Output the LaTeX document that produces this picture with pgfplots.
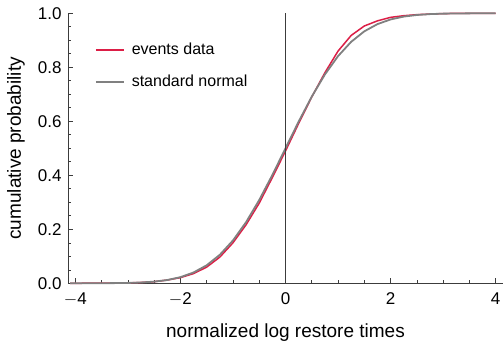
\documentclass[border=0pt]{standalone}
\usepackage{pgfplots}
\pgfplotsset{compat=1.18}
\usepackage{fontspec}
\setmainfont{Liberation Sans}
\definecolor{evred}{RGB}{220,30,70}
\definecolor{nrmgray}{RGB}{128,128,128}
\definecolor{axgray}{RGB}{60,60,60}
\begin{document}
\fontsize{16}{19}\selectfont
\begin{tikzpicture}
\path[use as bounding box] (0,0) rectangle (503pt,343pt);
\begin{axis}[
  at={(68pt,59.7pt)}, anchor=south west,
  scale only axis, width=435pt, height=270pt,
  xmin=-4.14, xmax=4.14, ymin=0, ymax=1,
  axis lines*=left, axis line style={axgray, line width=0.7pt, -},
  xtick={-4,-2,0,2,4}, ytick={0,0.2,0.4,0.6,0.8,1.0},
  minor x tick num=3, minor y tick num=3,
  tick align=inside, tick style={axgray, line width=0.6pt},
  major tick length=5pt, minor tick length=3pt,
  xticklabels={$-$4,$-$2,0,2,4},
  yticklabel style={/pgf/number format/fixed, /pgf/number format/fixed zerofill, /pgf/number format/precision=1, xshift=-1pt},
  /pgf/number format/assume math mode=true,
  ticklabel style={font=\fontsize{17}{19}\selectfont},
  xticklabel style={yshift=-4pt},
  xlabel={normalized log restore times},
  ylabel={cumulative probability},
  label style={font=\fontsize{19}{22}\selectfont},
  xlabel style={at={(axis description cs:0.5,0)}, anchor=base, yshift=-54pt},
  ylabel style={at={([xshift=-47pt]axis description cs:0,0.5)}, anchor=base},
  legend style={draw=none, fill=none, at={(axis cs:-3.63,0.898)}, anchor=north west,
    font=\fontsize{16}{19}\selectfont, row sep=14pt, inner sep=0pt},
  legend cell align=left,
  legend image code/.code={\draw[#1] (0pt,0pt) -- (28pt,0pt); \path (33pt,0pt);},
  clip=false,
]
\addplot[evred, line width=1.5pt] coordinates {
(-4.1,0.0) (-3.5,0.0005) (-3,0.0015) (-2.75,0.003) (-2.5,0.006) (-2.25,0.012)
(-2,0.021) (-1.75,0.036) (-1.5,0.060) (-1.25,0.097) (-1,0.150) (-0.75,0.217)
(-0.5,0.297) (-0.25,0.392) (0,0.490) (0.25,0.592) (0.5,0.690) (0.75,0.780)
(1,0.860) (1.25,0.918) (1.5,0.953) (1.75,0.972) (2,0.985) (2.25,0.991)
(2.5,0.995) (2.75,0.997) (3,0.999) (3.5,1.0) (4.0,1.0)
};
\addlegendentry{events data}
\addplot[nrmgray, line width=1.8pt] coordinates {
(-4.1,0.00002) (-3.5,0.0002) (-3,0.0013) (-2.75,0.0030) (-2.5,0.0062) (-2.25,0.0122)
(-2,0.0228) (-1.75,0.0401) (-1.5,0.0668) (-1.25,0.1056) (-1,0.1587) (-0.75,0.2266)
(-0.5,0.3085) (-0.25,0.4013) (0,0.5) (0.25,0.5987) (0.5,0.6915) (0.75,0.7734)
(1,0.8413) (1.25,0.8944) (1.5,0.9332) (1.75,0.9599) (2,0.9772) (2.25,0.9878)
(2.5,0.9938) (2.75,0.9970) (3,0.9987) (3.5,0.9998) (4.0,1.0)
};
\addlegendentry{standard normal}
\draw[axgray, line width=0.7pt] (axis cs:0,0) -- (axis cs:0,1);
\end{axis}
\end{tikzpicture}
\end{document}
